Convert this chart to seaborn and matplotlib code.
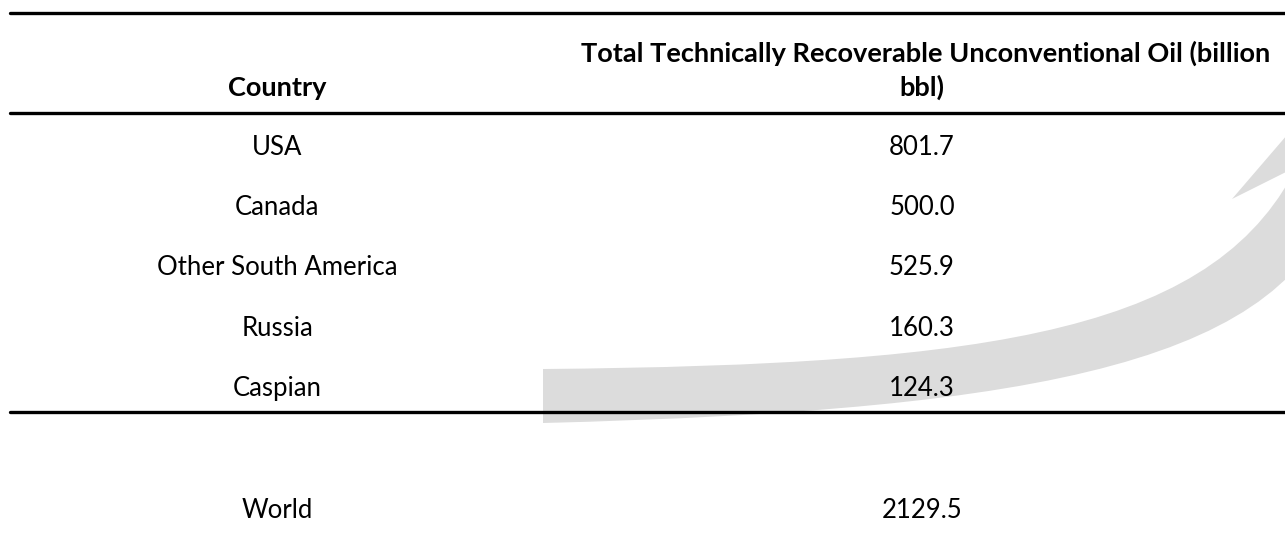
import matplotlib.pyplot as plt
import seaborn as sns
from matplotlib.path import Path
from matplotlib.patches import PathPatch, Polygon

countries = ["USA", "Canada", "Other South America", "Russia", "Caspian"]
oil = [801.7, 500.0, 525.9, 160.3, 124.3]
total_label = "World"
total_oil = 2129.5

col_head = "Country"
val_head_1 = "Total Technically Recoverable Unconventional Oil (billion"
val_head_2 = "bbl)"

sns.set_theme(style="white")
plt.rcParams["font.family"] = ["Lato", "DejaVu Sans"]

W, H = 1285, 548
fig = plt.figure(figsize=(W / 100, H / 100), dpi=100)
ax = fig.add_axes([0, 0, 1, 1])
ax.set_xlim(0, W)
ax.set_ylim(H, 0)
ax.axis("off")

# grey curved arrow in the background
grey = "#dcdcdc"
verts = [(543, 369), (1000, 365), (1220, 330), (1300, 160),
         (1340, 190),
         (1290, 360), (1050, 410), (543, 423),
         (543, 369)]
codes = [Path.MOVETO, Path.CURVE4, Path.CURVE4, Path.CURVE4,
         Path.LINETO,
         Path.CURVE4, Path.CURVE4, Path.CURVE4,
         Path.CLOSEPOLY]
ax.add_patch(PathPatch(Path(verts, codes), color=grey, lw=0, zorder=0))
ax.add_patch(Polygon([(1232, 199), (1330, 85), (1330, 150)],
                     closed=True, color=grey, lw=0, zorder=0))

# horizontal rules
for y in (13, 113, 412):
    sns.lineplot(x=[10, W], y=[y, y], color="black", lw=2.4, ax=ax, zorder=2)

x_country, x_val = 277, 922
fs, fs_head = 18.5, 19.5

ax.text(x_country, 96, col_head, ha="center", va="baseline",
        fontsize=fs_head, fontweight="bold", color="black", zorder=3)
ax.text(926, 62, val_head_1, ha="center", va="baseline",
        fontsize=fs_head, fontweight="bold", color="black", zorder=3)
ax.text(922, 96, val_head_2, ha="center", va="baseline",
        fontsize=fs_head, fontweight="bold", color="black", zorder=3)

row0, pitch = 155, 60.2
for i, (c, v) in enumerate(zip(countries, oil)):
    y = row0 + i * pitch
    ax.text(x_country, y, c, ha="center", va="baseline", fontsize=fs,
            color="black", zorder=3)
    ax.text(x_val, y, f"{v:.1f}", ha="center", va="baseline", fontsize=fs,
            color="black", zorder=3)

ax.text(x_country, 518, total_label, ha="center", va="baseline", fontsize=fs,
        color="black", zorder=3)
ax.text(x_val, 518, f"{total_oil:.1f}", ha="center", va="baseline", fontsize=fs,
        color="black", zorder=3)

fig.savefig("out.png", dpi=100, facecolor="white")
